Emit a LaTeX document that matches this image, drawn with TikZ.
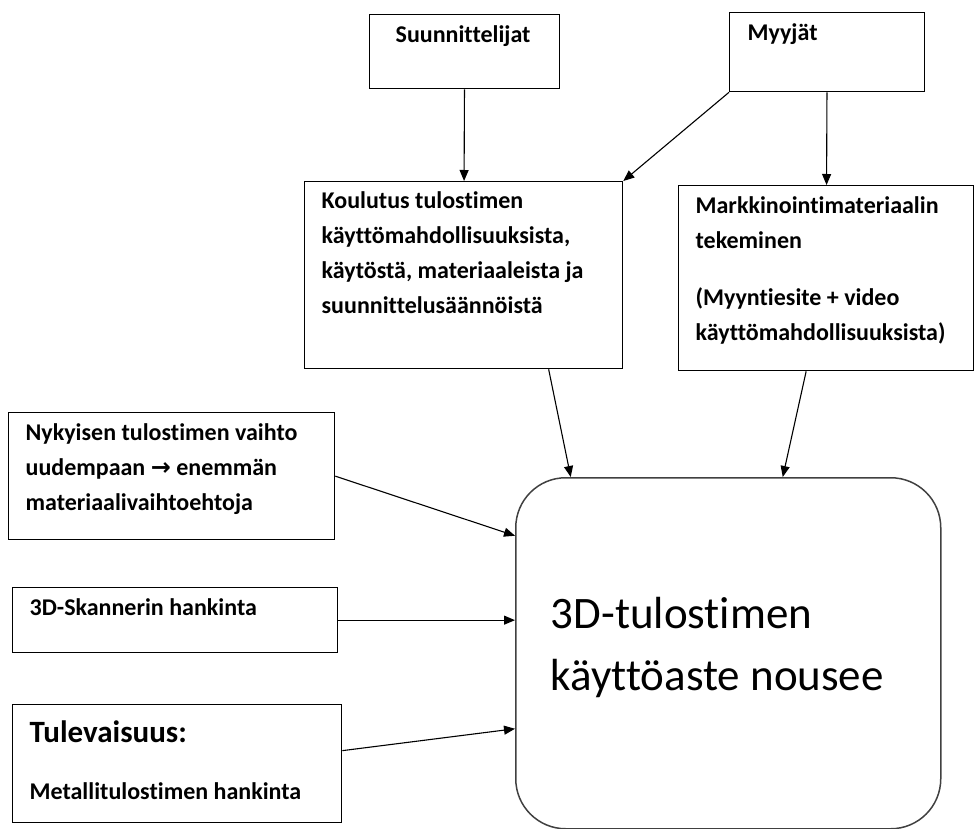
\documentclass[tikz,border=0pt]{standalone}
\usepackage{fontspec}
\setmainfont[Ligatures=NoCommon]{Carlito}
\newfontfamily\symfont{DejaVu Sans}
\usetikzlibrary{positioning, arrows.meta}

\newcommand{\boxtext}[5]{\parbox[c][#2][t]{#1}{\raggedright\leftskip=#3\relax\parindent=0pt\vspace*{#4}#5}}
\newcommand{\smallbold}{\fontsize{24}{35}\selectfont\bfseries}

\begin{document}
\begin{tikzpicture}[x=1pt, y=-1pt, >={Triangle[length=11pt,width=9pt]},
    box/.style={draw, line width=1.3pt, rectangle, inner sep=0pt, anchor=north west, font=\smallbold},
    goal/.style={draw=black!75, line width=1.5pt, rectangle, rounded corners=50pt, inner sep=0pt, anchor=north west, font=\fontsize{45}{62}\selectfont},
    arr/.style={->, line width=1.1pt}]
  \useasboundingbox (0,0) rectangle (974,829);

  \node[box] (suun) at (369,14) {\boxtext{190pt}{74pt}{26pt}{11pt}{Suunnittelijat}};
  \node[box] (myyjat) at (729,12) {\boxtext{195pt}{79pt}{18pt}{11pt}{Myyjät}};
  \node[box] (koul) at (304,181) {\boxtext{318pt}{187pt}{17pt}{10pt}{Koulutus tulostimen\\ käyttömahdollisuuksista,\\ käytöstä, materiaaleista ja\\ suunnittelusäännöistä}};
  \node[box] (mark) at (678,185) {\boxtext{295pt}{185pt}{17pt}{11pt}{Markkinointimateriaalin\\ tekeminen\\[22pt] (Myyntiesite + video\\ käyttömahdollisuuksista)}};
  \node[box] (nyky) at (8,412) {\boxtext{326pt}{127pt}{17pt}{11pt}{Nykyisen tulostimen vaihto\\ uudempaan {\symfont\bfseries →} enemmän\\ materiaalivaihtoehtoja}};
  \node[box] (skan) at (12,587) {\boxtext{325pt}{65pt}{17pt}{11pt}{3D-Skannerin hankinta}};
  \node[box] (tule) at (12,704) {\boxtext{329pt}{118pt}{17pt}{16pt}{{\fontsize{31}{36}\selectfont Tulevaisuus:\par}\vspace{22pt}Metallitulostimen hankinta}};
  \node[goal] (tavoite) at (515,477) {\boxtext{425pt}{351pt}{35pt}{119pt}{3D-tulostimen\\ käyttöaste nousee}};

  \draw[arr] (suun) -- (koul);
  \draw[arr] (myyjat.south west) -- (koul.north east);
  \draw[arr] (myyjat) -- (mark);
  \draw[arr] ([xshift=85pt]koul.south) -- ([xshift=-157.5pt]tavoite.north);
  \draw[arr] ([xshift=-20pt]mark.south) -- ([xshift=54.5pt]tavoite.north);
  \draw[arr] (nyky.east) -- ([yshift=117.5pt]tavoite.west);
  \draw[arr] (skan.east) -- (skan.east -| tavoite.west);
  \draw[arr] ([yshift=13pt]tule.east) -- ([yshift=-75.5pt]tavoite.west);
\end{tikzpicture}
\end{document}
